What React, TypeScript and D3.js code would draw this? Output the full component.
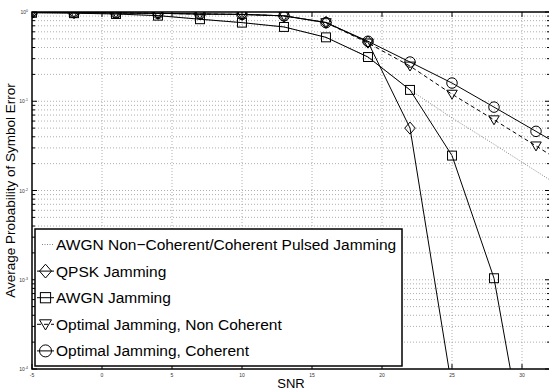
import React from "react";
import * as d3 from "d3";

const SNR = [-5, -2, 1, 4, 7, 10, 13, 16, 19, 22, 25, 28, 31, 34];
const qpsk = [0.99, 0.985, 0.975, 0.966, 0.95, 0.94, 0.905, 0.765, 0.46, 0.05, 6.1e-5, 1e-9, 1e-14, 1e-20];
const awgn = [0.98, 0.97, 0.95, 0.91, 0.83, 0.76, 0.68, 0.52, 0.313, 0.134, 0.0246, 0.00104, 2.5e-6, 1e-10];
const optNonCoherent = [0.99, 0.985, 0.975, 0.966, 0.95, 0.94, 0.905, 0.76, 0.45, 0.248, 0.12, 0.062, 0.0316, 0.016];
const optCoherent = [0.99, 0.985, 0.975, 0.966, 0.95, 0.94, 0.905, 0.76, 0.47, 0.275, 0.16, 0.086, 0.046, 0.0245];
const pulsed = [0.98, 0.97, 0.95, 0.91, 0.83, 0.76, 0.68, 0.52, 0.313, 0.134, 0.065, 0.033, 0.0165, 0.0083];

const xTicks = [-5, 0, 5, 10, 15, 20, 25, 30];
const yDecades = [0, -1, -2, -3, -4];
const legendLabels = [
  "AWGN Non\u2212Coherent/Coherent Pulsed Jamming",
  "QPSK Jamming",
  "AWGN Jamming",
  "Optimal Jamming, Non Coherent",
  "Optimal Jamming, Coherent",
];

const W = 549;
const H = 390;
const L = 32, R = 550, T = 12, B = 369;

const x = d3.scaleLinear().domain([-5, 32]).range([L, R]);
const y = d3.scaleLog().domain([1e-4, 1]).range([B, T]);

type Mk = "none" | "diamond" | "square" | "tri" | "circle";

function Marker({ kind, cx, cy, s }: { kind: Mk; cx: number; cy: number; s: number }) {
  const h = s / 2;
  const st = { fill: "none", stroke: "#000", strokeWidth: 1 } as const;
  if (kind === "diamond")
    return <path d={`M${cx},${cy - h * 1.15}L${cx + h},${cy}L${cx},${cy + h * 1.15}L${cx - h},${cy}Z`} {...st} />;
  if (kind === "square")
    return <rect x={cx - h * 0.85} y={cy - h * 0.85} width={h * 1.7} height={h * 1.7} {...st} />;
  if (kind === "tri")
    return <path d={`M${cx - h},${cy - h * 0.75}L${cx + h},${cy - h * 0.75}L${cx},${cy + h * 0.95}Z`} {...st} />;
  if (kind === "circle") return <circle cx={cx} cy={cy} r={h} {...st} />;
  return null;
}

const series: { data: number[]; mk: Mk; dash?: string; color: string; width: number }[] = [
  { data: pulsed, mk: "none", dash: "1 1.5", color: "#777", width: 0.9 },
  { data: qpsk, mk: "diamond", color: "#000", width: 1 },
  { data: awgn, mk: "square", color: "#000", width: 1 },
  { data: optNonCoherent, mk: "tri", dash: "4 3", color: "#000", width: 1 },
  { data: optCoherent, mk: "circle", color: "#000", width: 1 },
];

export default function App() {
  const line = d3
    .line<number>()
    .x((_, i) => x(SNR[i]))
    .y((d) => y(d));

  const minor: number[] = [];
  yDecades.forEach((e) => {
    for (let k = 1; k <= 9; k++) {
      const v = k * Math.pow(10, e);
      if (v <= 1 && v >= 1e-4) minor.push(v);
    }
  });

  const gridStyle = { stroke: "#999", strokeWidth: 0.8, strokeDasharray: "1 2" };
  const legX = 35, legY = 229, legW = 367, legH = 137;

  return (
    <svg width={W} height={H} style={{ display: "block", position: "absolute", left: 0, top: 0 }}
      fontFamily="'Liberation Sans', Arial, sans-serif">
      <defs>
        <clipPath id="plotclip">
          <rect x={L} y={T} width={R - L} height={B - T} />
        </clipPath>
      </defs>
      <rect x={0} y={0} width={W} height={H} fill="#fff" />
      {/* grid */}
      {xTicks.filter((t) => t !== -5).map((t) => (
        <line key={"gx" + t} x1={x(t)} x2={x(t)} y1={T} y2={B} {...gridStyle} />
      ))}
      {minor.filter((v) => v < 1 && v > 1e-4).map((v, i) => (
        <line key={"gy" + i} x1={L} x2={R} y1={y(v)} y2={y(v)} {...gridStyle} />
      ))}
      {/* ticks */}
      {xTicks.map((t) => (
        <g key={"tx" + t}>
          <line x1={x(t)} x2={x(t)} y1={B} y2={B - 5} stroke="#000" strokeWidth={1} />
          <line x1={x(t)} x2={x(t)} y1={T} y2={T + 5} stroke="#000" strokeWidth={1} />
          <text x={x(t)} y={B + 8} fontSize={5} textAnchor="middle" fill="#333">{t}</text>
        </g>
      ))}
      {minor.map((v, i) => {
        const major = Math.abs(Math.log10(v) - Math.round(Math.log10(v))) < 1e-9;
        const len = major ? 5 : 3;
        return (
          <g key={"ty" + i}>
            <line x1={L} x2={L + len} y1={y(v)} y2={y(v)} stroke="#000" strokeWidth={1} />
            <line x1={R} x2={R - len} y1={y(v)} y2={y(v)} stroke="#000" strokeWidth={1} />
          </g>
        );
      })}
      {yDecades.map((e) => (
        <text key={"yl" + e} x={L - 4} y={y(Math.pow(10, e)) + 2} fontSize={5} textAnchor="end" fill="#333">
          10<tspan dy={-2} fontSize={3.5}>{e}</tspan>
        </text>
      ))}
      {/* data */}
      <g clipPath="url(#plotclip)">
        {series.map((s, si) => (
          <g key={"s" + si}>
            <path d={line(s.data) || ""} fill="none" stroke={s.color} strokeWidth={s.width}
              strokeDasharray={s.dash} />
            {s.data.map((d, i) => (
              <Marker key={i} kind={s.mk} cx={x(SNR[i])} cy={y(d)} s={10.5} />
            ))}
          </g>
        ))}
      </g>
      {/* frame */}
      <rect x={L} y={T} width={R - L} height={B - T} fill="none" stroke="#000" strokeWidth={1.5} />
      {/* axis labels */}
      <text x={(L + R) / 2} y={388} fontSize={13} textAnchor="middle">SNR</text>
      <text transform={`translate(15,${(T + B) / 2}) rotate(-90)`} fontSize={13.5} textAnchor="middle">
        Average Probability of Symbol Error
      </text>
      {/* legend */}
      <rect x={legX} y={legY} width={legW} height={legH} fill="#fff" stroke="#000" strokeWidth={1.5} />
      {legendLabels.map((lab, i) => {
        const cy = 244.5 + i * 26.6;
        const s = series[i];
        return (
          <g key={"lg" + i}>
            <line x1={i === 0 ? 42 : 37} x2={54} y1={cy} y2={cy} stroke={s.color} strokeWidth={s.width}
              strokeDasharray={s.dash} />
            <Marker kind={s.mk} cx={45.5} cy={cy} s={12} />
            <text x={56} y={cy + 5.5} fontSize={15.5}>{lab}</text>
          </g>
        );
      })}
    </svg>
  );
}
